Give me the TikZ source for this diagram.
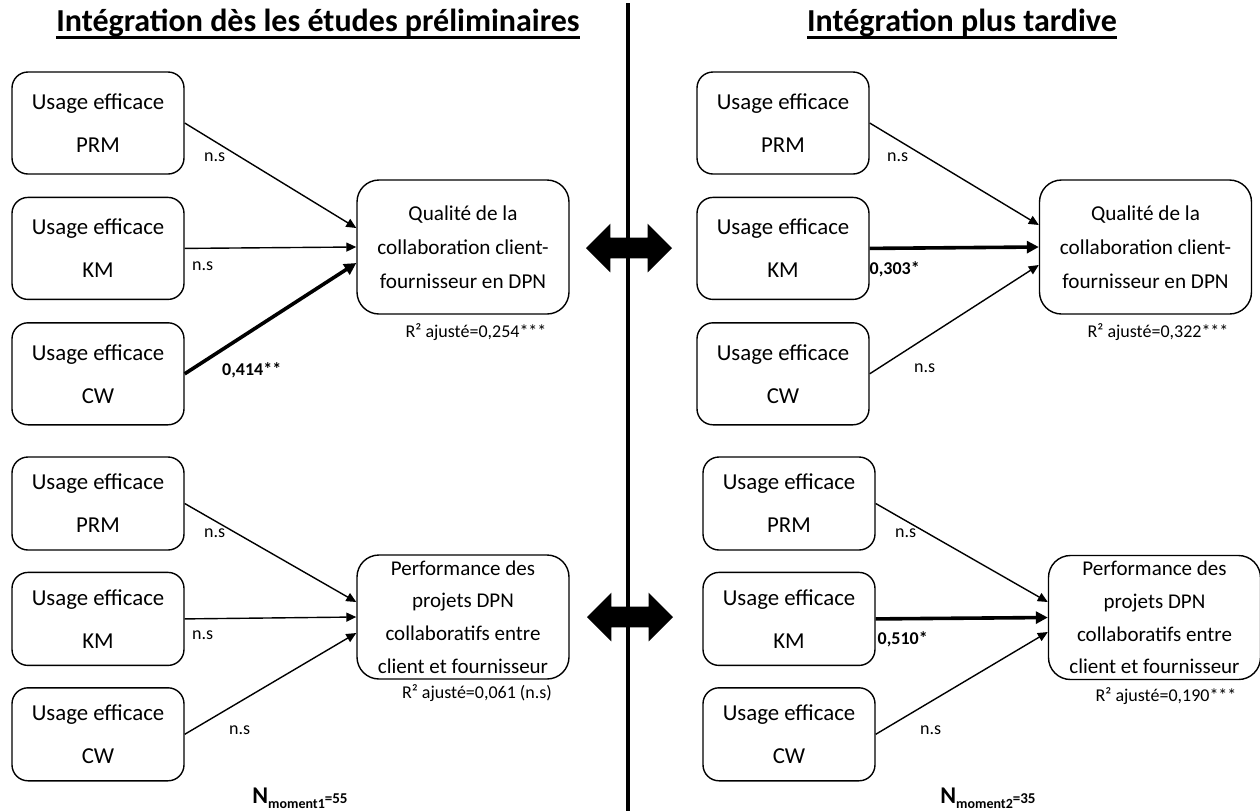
\documentclass[tikz,border=0pt]{standalone}
\usepackage{fontspec}
\setmainfont{Carlito}
\usetikzlibrary{positioning,arrows.meta,shapes.arrows}

\newcommand{\subsize}[1]{\raisebox{-2.5pt}{\fontsize{7}{8}\selectfont #1}}

\begin{document}
\begin{tikzpicture}[x=0.5pt,y=-0.5pt,
      every node/.style={font=\fontsize{11}{13}\selectfont},
      usage/.style={rectangle,rounded corners=8pt,draw,line width=0.7pt,
                    minimum width=86pt,minimum height=51pt,inner sep=0pt,
                    align=center,font=\fontsize{11.4}{21.5}\selectfont},
      usagelow/.style={usage,minimum height=46.5pt},
      outcome/.style={rectangle,rounded corners=11pt,draw,line width=0.7pt,
                      minimum width=106pt,minimum height=67pt,inner sep=0pt,
                      align=center,font=\fontsize{10.6}{17}\selectfont},
      outcomelow/.style={outcome,minimum height=62pt,
                         font=\fontsize{10.5}{16.4}\selectfont},
      arr/.style={-{Triangle[length=5pt,width=4.5pt]},line width=0.7pt},
      strong/.style={-{Triangle[length=6pt,width=6pt]},line width=1.8pt},
      coef/.style={font=\fontsize{9}{10}\selectfont,inner sep=0pt},
      coefb/.style={coef,font=\fontsize{9}{10}\selectfont\bfseries},
      rsq/.style={font=\fontsize{9}{10}\selectfont,inner sep=0pt},
      sample/.style={font=\fontsize{12}{14}\selectfont\bfseries,inner sep=0pt,anchor=base},
      heading/.style={font=\fontsize{16}{18}\selectfont\bfseries,inner sep=0pt,anchor=base},
      exchange/.style={double arrow,fill=black,inner xsep=0pt,inner ysep=5pt,
                       minimum height=43pt,double arrow head extend=7pt},
    ]
    \useasboundingbox (0,0) rectangle (1260,811);

    % Headings of the two halves
    \node[heading] (headA) at (318,31) {Intégration dès les études préliminaires};
    \node[heading] (headB) at (962,31) {Intégration plus tardive};
    \draw[line width=1.5pt] ([yshift=-3pt]headA.base west) -- ([yshift=-3pt]headA.base east);
    \draw[line width=1.5pt] ([yshift=-3pt]headB.base west) -- ([yshift=-3pt]headB.base east);

    % Divider between the halves
    \coordinate (divTop) at (628,3);
    \coordinate (divBot) at (628,811);
    \draw[line width=1.8pt] (divTop) -- (divBot);

    % Left half: quality of collaboration
    \node[usage] (prmA) at (98,123) {Usage efficace\\PRM};
    \node[usage,below=11pt of prmA] (kmA) {Usage efficace\\KM};
    \node[usage,below=11pt of kmA] (cwA) {Usage efficace\\CW};
    \node[outcome] (qualA) at (463,247) {Qualité de la\\collaboration client-\\fournisseur en DPN};
    \node[rsq] (rsqA) at ([xshift=6.5pt,yshift=-8.5pt]qualA.south) {R² ajusté=0,254***};

    \draw[arr] (prmA.east) -- ([yshift=9.5pt]qualA.west)
        node[coef,pos=0,xshift=15pt,yshift=-17pt] {n.s};
    \draw[arr] (kmA.east) -- (qualA.west)
        node[coef,pos=0,xshift=9pt,yshift=-9pt] {n.s};
    \draw[strong] (cwA.east) -- ([yshift=-8pt]qualA.west)
        node[coefb,pos=0,xshift=33.5pt,yshift=2pt] {0,414**};

    % Left half: project performance
    \node[usagelow] (prmC) at (98,503.5) {Usage efficace\\PRM};
    \node[usagelow,below=10.5pt of prmC] (kmC) {Usage efficace\\KM};
    \node[usagelow,below=10.5pt of kmC] (cwC) {Usage efficace\\CW};
    \node[outcomelow] (perfA) at (463,617) {Performance des\\projets DPN\\collaboratifs entre\\client et fournisseur};
    \node[rsq] (rsqC) at ([xshift=7pt,yshift=-6.5pt]perfA.south) {R² ajusté=0,061 (n.s)};

    \draw[arr] (prmC.east) -- ([yshift=7.5pt]perfA.west)
        node[coef,pos=0,xshift=15pt,yshift=-15pt] {n.s};
    \draw[arr] (kmC.east) -- (perfA.west)
        node[coef,pos=0,xshift=9pt,yshift=-8pt] {n.s};
    \draw[arr] (cwC.east) -- ([yshift=-8pt]perfA.west)
        node[coef,pos=0,xshift=27.5pt,yshift=2pt] {n.s};

    \node[sample] (sizeA) at (300,803) {N\subsize{moment1}\fontsize{7.5}{9}\selectfont=55};

    % Right half: quality of collaboration
    \node[usage] (prmB) at (783,123) {Usage efficace\\PRM};
    \node[usage,below=11pt of prmB] (kmB) {Usage efficace\\KM};
    \node[usage,below=11pt of kmB] (cwB) {Usage efficace\\CW};
    \node[outcome] (qualB) at (1145.5,247) {Qualité de la\\collaboration client-\\fournisseur en DPN};
    \node[rsq] (rsqB) at ([xshift=6.25pt,yshift=-8.5pt]qualB.south) {R² ajusté=0,322***};

    \draw[arr] (prmB.east) -- ([yshift=11pt]qualB.west)
        node[coef,pos=0,xshift=14pt,yshift=-17pt] {n.s};
    \draw[strong] (kmB.east) -- (qualB.west)
        node[coefb,pos=0,xshift=12.5pt,yshift=-10.5pt] {0,303*};
    \draw[arr] (cwB.east) -- ([yshift=-9pt]qualB.west)
        node[coef,pos=0,xshift=27.5pt,yshift=3pt] {n.s};

    % Right half: project performance
    \node[usagelow] (prmD) at (789,503.5) {Usage efficace\\PRM};
    \node[usagelow,below=10.5pt of prmD] (kmD) {Usage efficace\\KM};
    \node[usagelow,below=10.5pt of kmD] (cwD) {Usage efficace\\CW};
    \node[outcomelow] (perfB) at (1154.5,617.5) {Performance des\\projets DPN\\collaboratifs entre\\client et fournisseur};
    \node[rsq] (rsqD) at ([xshift=5.75pt,yshift=-8pt]perfB.south) {R² ajusté=0,190***};

    \draw[arr] (prmD.east) -- ([yshift=7.75pt]perfB.west)
        node[coef,pos=0,xshift=15pt,yshift=-15pt] {n.s};
    \draw[strong] (kmD.east) -- (perfB.west)
        node[coefb,pos=0,xshift=13.5pt,yshift=-10pt] {0,510*};
    \draw[arr] (cwD.east) -- ([yshift=-7.25pt]perfB.west)
        node[coef,pos=0,xshift=27.5pt,yshift=2pt] {n.s};

    \node[sample] (sizeB) at (988,803) {N\subsize{moment2}\fontsize{7.5}{9}\selectfont=35};

    % Comparison arrows across the divider
    \node[exchange] (swapTop) at (629,248) {};
    \node[exchange] (swapLow) at (630,617) {};
  \end{tikzpicture}
\end{document}
